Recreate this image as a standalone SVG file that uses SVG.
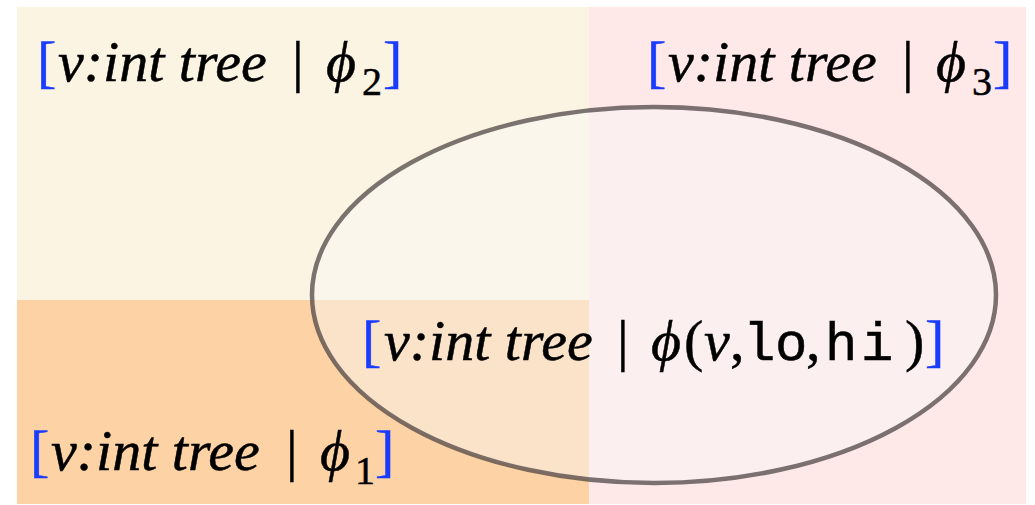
<svg xmlns="http://www.w3.org/2000/svg" width="1035" height="505" viewBox="0 0 1035 505">
  <style>
    .lbl { font-family: "Liberation Serif", "Times New Roman", serif; font-size: 58px; fill: #000; stroke: #000; stroke-width: 0.5px; }
    .it { font-style: italic; }
    .br { fill: #1a3cff; stroke: #1a3cff; }
    .sub { font-size: 40px; }
    .mono { font-family: "Liberation Mono", "Courier New", monospace; font-size: 54px; }
  </style>
  <rect width="1035" height="505" fill="#ffffff"/>
  <g id="region-phi2">
    <rect x="17" y="7" width="572" height="293" fill="#fcf4e2"/>
  </g>
  <g id="region-phi1">
    <rect x="17" y="300" width="572" height="204" fill="#fdd2a5"/>
  </g>
  <g id="region-phi3">
    <rect x="589" y="7" width="437" height="497" fill="#ffe8e8"/>
  </g>
  <g id="region-phi">
    <ellipse cx="654" cy="295" rx="342" ry="188" fill="#f8f8f8" fill-opacity="0.45" stroke="#4a4040" stroke-opacity="0.72" stroke-width="4.5"/>
  </g>
  <g id="label-phi2">
    <text class="lbl" y="81"><tspan class="br" x="37">[</tspan><tspan class="it" x="58">v:int tree</tspan><tspan x="292">|</tspan><tspan class="it" x="326">ϕ</tspan><tspan class="sub" x="362" y="95">2</tspan><tspan class="br" x="383" y="81">]</tspan></text>
  </g>
  <g id="label-phi3">
    <text class="lbl" y="81"><tspan class="br" x="647">[</tspan><tspan class="it" x="668">v:int tree</tspan><tspan x="902">|</tspan><tspan class="it" x="936">ϕ</tspan><tspan class="sub" x="972" y="95">3</tspan><tspan class="br" x="993" y="81">]</tspan></text>
  </g>
  <g id="label-phi1">
    <text class="lbl" y="470"><tspan class="br" x="30">[</tspan><tspan class="it" x="51">v:int tree</tspan><tspan x="286">|</tspan><tspan class="it" x="320">ϕ</tspan><tspan class="sub" x="355" y="484">1</tspan><tspan class="br" x="375" y="470">]</tspan></text>
  </g>
  <g id="label-phi">
    <text class="lbl" y="360"><tspan class="br" x="362">[</tspan><tspan class="it" x="384">v:int tree</tspan><tspan x="617">|</tspan><tspan class="it" x="651">ϕ</tspan><tspan x="684">(</tspan><tspan class="it" x="704">v</tspan><tspan x="730">,</tspan><tspan class="mono" x="743">l</tspan><tspan class="mono" x="775">o</tspan><tspan x="806">,</tspan><tspan class="mono" x="825">h</tspan><tspan class="mono" x="861">i</tspan><tspan x="905">)</tspan><tspan class="br" x="925">]</tspan></text>
  </g>
</svg>
